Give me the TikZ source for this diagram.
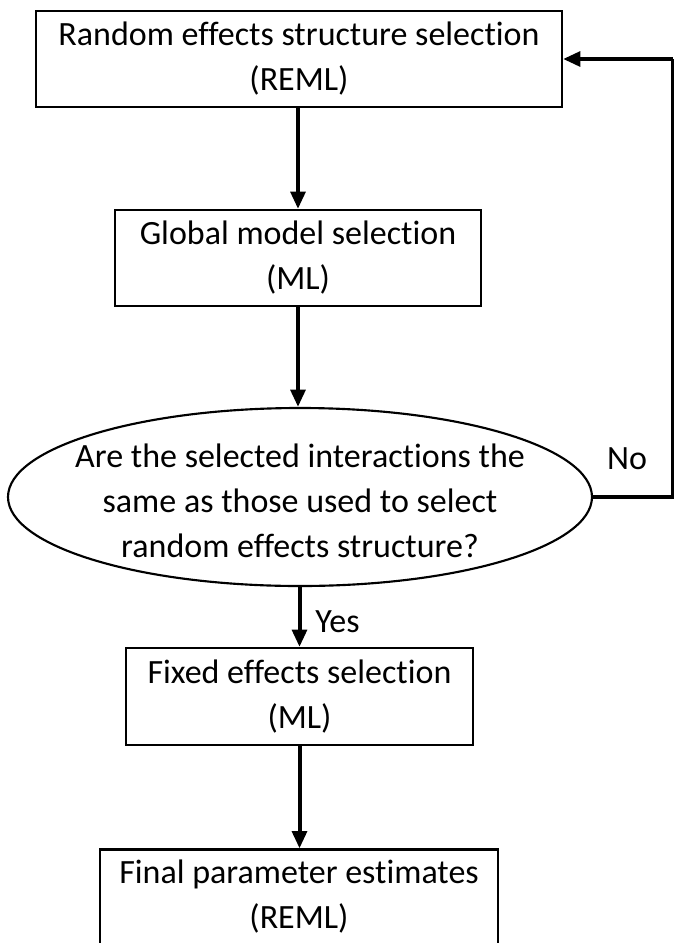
\documentclass[tikz,border=0pt]{standalone}
\usepackage{fontspec}
\setmainfont{Carlito}[Ligatures=NoCommon]
\usetikzlibrary{arrows.meta,shapes.geometric}
\begin{document}
\begin{tikzpicture}[x=0.75pt,y=-0.75pt,
  box/.style={draw=black,line width=1.6pt,rectangle,inner sep=0pt,align=center,font=\fontsize{25.5}{33.75}\selectfont},
  oval/.style={draw=black,line width=1.6pt,ellipse,inner sep=0pt},
  lbl/.style={font=\fontsize{25.5}{33.75}\selectfont,align=center,inner sep=0pt},
  flow/.style={line width=3pt,-{Triangle[width=11pt,length=13pt]}},
  back/.style={line width=3pt}]
\useasboundingbox (0,0) rectangle (674,943);
\node[box,minimum width=394.5pt,minimum height=72pt] (b1) at (299,59) {Random effects structure selection\\(REML)};
\node[box,minimum width=274.5pt,minimum height=72pt] (b2) at (298,258) {Global model selection\\(ML)};
\node[oval,minimum width=438pt,minimum height=133.5pt] (q) at (300,497) {};
\node[lbl] (qt) at (300,501) {Are the selected interactions the\\same as those used to select\\random effects structure?};
\node[box,minimum width=260pt,minimum height=72.75pt] (b3) at (299.5,696.5) {Fixed effects selection\\(ML)};
\node[box,minimum width=298.5pt,minimum height=71.25pt] (b4) at (299,897) {Final parameter estimates\\(REML)};
\coordinate (c1) at (673,497);
\coordinate (c2) at (673,59);
\draw[flow] (b1.south -| b2.north) -- (b2.north);
\draw[flow] (b2.south) -- (q.north -| b2.south);
\draw[flow] (q.south -| b3.north) -- (b3.north);
\draw[flow] (b3.south) -- (b4.north -| b3.south);
\draw[back] (q.east) -- (c1) -- (c2);
\draw[flow] (c2) -- (b1.east);
\node[lbl,anchor=center] (no) at (627,459) {No};
\node[lbl,anchor=west] (yes) at (315,622) {Yes};
\end{tikzpicture}
\end{document}
